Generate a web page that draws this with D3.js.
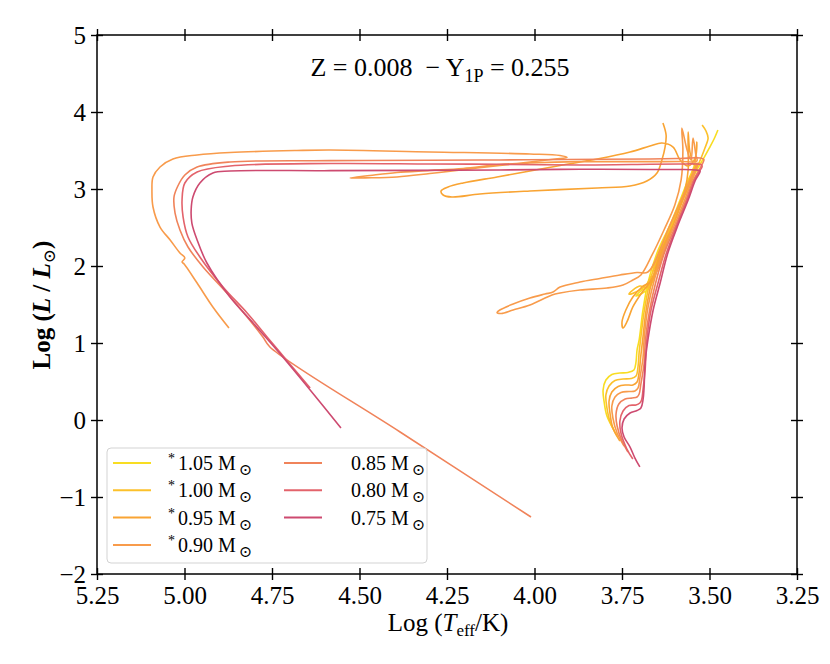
<!DOCTYPE html>
<html>
<head>
<meta charset="utf-8">
<script src="https://cdn.jsdelivr.net/npm/d3@7"></script>
<style>
  body { margin: 0; background: #fff; }
</style>
</head>
<body>
<svg id="chart" width="830" height="664"></svg>
<script>
// masses shown in the legend, and which carry the asterisk
const masses  = ["1.05", "1.00", "0.95", "0.90", "0.85", "0.80", "0.75"];
const starred = [true, true, true, true, false, false, false];

const xTicks = [5.25, 5.00, 4.75, 4.50, 4.25, 4.00, 3.75, 3.50, 3.25];
const yTicks = [-2, -1, 0, 1, 2, 3, 4, 5];

// tracks: [log Teff, log L/Lsun]
const track105 = [
  [3.773,-0.130],[3.793,0.052],[3.801,0.234],[3.804,0.390],[3.796,0.519],[3.779,0.591],
  [3.756,0.610],[3.733,0.617],[3.716,0.649],[3.710,0.753],[3.707,0.909],[3.701,1.039],
  [3.690,1.429],[3.676,1.779],[3.650,2.169],[3.613,2.532],[3.584,2.857],[3.561,3.117],
  [3.547,3.247],[3.541,3.338],[3.607,2.532],[3.670,1.753],[3.693,1.688],[3.710,1.610],
  [3.696,1.636],[3.670,1.727],[3.641,2.143],[3.613,2.468],[3.584,2.779],[3.556,3.065],
  [3.533,3.273],[3.516,3.403],[3.499,3.545],[3.487,3.649],[3.476,3.766]
];
const track100 = [
  [3.764,-0.208],[3.784,-0.026],[3.793,0.156],[3.796,0.325],[3.787,0.442],[3.770,0.513],
  [3.747,0.532],[3.724,0.539],[3.710,0.571],[3.704,0.701],[3.701,0.883],[3.697,1.039],
  [3.686,1.429],[3.671,1.779],[3.646,2.169],[3.609,2.532],[3.580,2.857],[3.557,3.117],
  [3.544,3.247],[3.539,3.338],[3.607,2.545],[3.676,1.727],[3.699,1.740],[3.719,1.688],
  [3.730,1.636],[3.710,1.662],[3.679,1.766],[3.647,2.104],[3.619,2.429],[3.590,2.753],
  [3.561,3.039],[3.539,3.247],[3.524,3.403],[3.513,3.532],[3.504,3.662],[3.510,3.753],
  [3.521,3.831]
];
const track095 = [
  [3.756,-0.273],[3.776,-0.104],[3.784,0.078],[3.787,0.247],[3.779,0.364],[3.761,0.435],
  [3.739,0.455],[3.719,0.455],[3.707,0.494],[3.701,0.623],[3.696,0.844],[3.691,1.039],
  [3.681,1.429],[3.666,1.779],[3.640,2.169],[3.604,2.532],[3.576,2.857],[3.553,3.117],
  [3.541,3.247],[3.536,3.338],[3.604,2.532],[3.664,1.818],[3.693,1.727],[3.719,1.597],
  [3.739,1.429],[3.750,1.273],[3.747,1.195],[3.736,1.273],[3.719,1.468],[3.696,1.636],
  [3.670,1.792],[3.641,2.104],[3.613,2.429],[3.587,2.727],[3.570,2.987],[3.561,3.247],
  [3.561,3.506],[3.561,3.740],[3.556,3.481],[3.544,3.312],[3.536,3.610],[3.541,3.403],
  [3.561,3.299],[3.584,3.377],[3.604,3.545],[3.636,3.597],[3.670,3.558],[3.727,3.481],
  [3.821,3.390],[3.919,3.312],[4.013,3.234],[4.107,3.156],[4.204,3.078],[4.247,3.026],
  [4.267,2.974],[4.261,2.922],[4.236,2.896],[4.156,2.935],[4.013,2.974],[3.821,3.013],
  [3.727,3.039],[3.679,3.104],[3.650,3.208],[3.636,3.377],[3.627,3.545],[3.624,3.701],
  [3.633,3.857]
];
const track090 = [
  [3.744,-0.338],[3.764,-0.169],[3.776,0.026],[3.779,0.182],[3.770,0.299],[3.753,0.357],
  [3.730,0.370],[3.713,0.377],[3.704,0.416],[3.699,0.545],[3.690,0.805],[3.687,1.039],
  [3.677,1.429],[3.660,1.779],[3.634,2.169],[3.600,2.532],[3.571,2.857],[3.550,3.117],
  [3.539,3.247],[3.533,3.338],[3.613,2.532],[3.676,1.922],[3.707,1.916],[3.756,1.883],
  [3.813,1.838],[3.870,1.792],[3.927,1.727],[3.947,1.662],[3.970,1.636],[4.013,1.584],
  [4.061,1.506],[4.099,1.429],[4.107,1.396],[4.095,1.383],[4.061,1.429],[4.013,1.494],
  [3.950,1.623],[3.927,1.649],[3.870,1.688],[3.793,1.714],[3.747,1.753],[3.719,1.818],
  [3.696,1.883],[3.664,2.143],[3.630,2.468],[3.599,2.792],[3.581,3.117],[3.576,3.506],
  [3.579,3.792],[3.564,3.506],[3.553,3.377],[3.547,3.662],[3.539,3.442],[3.536,3.364],
  [3.584,3.357],[3.727,3.355],[3.870,3.355],[4.013,3.338],[4.099,3.318],[4.204,3.267],
  [4.299,3.240],[4.393,3.214],[4.470,3.175],[4.527,3.143],[4.484,3.145],[4.393,3.156],
  [4.299,3.201],[4.204,3.252],[4.099,3.305],[4.013,3.351],[3.941,3.390],[3.907,3.409],
  [3.927,3.435],[4.013,3.455],[4.299,3.481],[4.584,3.506],[4.679,3.500],[4.870,3.474],
  [4.964,3.442],[5.033,3.390],[5.070,3.286],[5.090,3.156],[5.093,2.987],[5.090,2.766],
  [5.070,2.506],[5.041,2.338],[5.013,2.169],[4.999,2.104],[5.007,2.052],[5.001,2.026],
  [4.964,1.779],[4.919,1.468],[4.873,1.195]
];
const track085 = [
  [3.733,-0.416],[3.750,-0.273],[3.764,-0.078],[3.767,0.078],[3.759,0.208],[3.741,0.273],
  [3.721,0.286],[3.707,0.299],[3.701,0.338],[3.696,0.468],[3.687,0.727],[3.683,1.039],
  [3.671,1.429],[3.654,1.779],[3.629,2.169],[3.596,2.532],[3.567,2.857],[3.546,3.117],
  [3.530,3.247],[3.519,3.338],[3.516,3.383],[3.527,3.403],[3.584,3.396],[3.670,3.390],
  [3.907,3.383],[4.099,3.377],[4.299,3.373],[4.584,3.368],[4.870,3.351],[4.964,3.286],
  [4.999,3.182],[5.019,3.039],[5.030,2.896],[5.027,2.688],[5.013,2.468],[4.990,2.247],
  [4.947,1.987],[4.879,1.649],[4.821,1.338],[4.776,1.078],[4.756,0.948],[4.384,-0.156],
  [4.010,-1.260]
];
const track080 = [
  [3.719,-0.506],[3.736,-0.377],[3.753,-0.169],[3.756,-0.013],[3.747,0.117],[3.730,0.188],
  [3.710,0.195],[3.699,0.221],[3.694,0.260],[3.690,0.390],[3.684,0.649],[3.679,1.039],
  [3.667,1.429],[3.647,1.779],[3.623,2.169],[3.593,2.532],[3.564,2.857],[3.543,3.117],
  [3.530,3.221],[3.521,3.292],[3.524,3.318],[3.539,3.325],[3.584,3.325],[3.670,3.321],
  [3.870,3.312],[4.099,3.321],[4.299,3.325],[4.584,3.331],[4.870,3.299],[4.964,3.221],
  [4.999,3.078],[5.007,2.857],[5.004,2.636],[4.990,2.377],[4.956,2.117],[4.890,1.727],
  [4.821,1.390],[4.764,1.078],[4.699,0.727],[4.641,0.416]
];
const track075 = [
  [3.699,-0.610],[3.713,-0.494],[3.727,-0.351],[3.744,-0.221],[3.750,-0.104],[3.744,0.013],
  [3.727,0.091],[3.707,0.123],[3.696,0.156],[3.690,0.260],[3.687,0.416],[3.684,0.740],
  [3.676,1.039],[3.661,1.429],[3.641,1.779],[3.619,2.169],[3.590,2.532],[3.561,2.857],
  [3.540,3.117],[3.530,3.195],[3.527,3.234],[3.539,3.247],[3.584,3.253],[3.670,3.253],
  [3.870,3.256],[4.099,3.247],[4.584,3.238],[4.870,3.234],[4.919,3.208],[4.956,3.078],
  [4.976,2.896],[4.981,2.727],[4.979,2.558],[4.964,2.338],[4.936,2.039],[4.870,1.597],
  [4.804,1.260],[4.736,0.909],[4.641,0.390],[4.553,-0.104]
];

const tracks = [track105, track100, track095, track090, track085, track080, track075];
const colors = ["#f8dd22", "#fcc12b", "#f9a433", "#f89b4b", "#f0835a", "#e3636b", "#cd4a70"];

const serif = '"Liberation Serif", "Times New Roman", "DejaVu Serif", serif';

const svg = d3.select("#chart");
const pLeft = 97, pRight = 797, pTop = 35, pBottom = 574;

const x = d3.scaleLinear().domain([5.25, 3.25]).range([pLeft, pRight]);
const y = d3.scaleLinear().domain([-2, 5]).range([pBottom, pTop]);

// tracks
const line = d3.line()
  .x(d => x(d[0]))
  .y(d => y(d[1]))
  .curve(d3.curveCatmullRom.alpha(0.5));

svg.append("g")
  .selectAll("path")
  .data(tracks)
  .enter().append("path")
    .attr("d", line)
    .attr("fill", "none")
    .attr("stroke", (d, i) => colors[i])
    .attr("stroke-width", 1.6)
    .attr("stroke-linejoin", "round");

// axes, ticks in-and-out on all four sides
const tickFont = "25px";
const fmtY = d => d < 0 ? "\u2212" + Math.abs(d) : String(d);

const xAxisB = svg.append("g")
  .attr("transform", `translate(0,${pBottom})`)
  .call(d3.axisBottom(x).tickValues(xTicks).tickFormat(d3.format(".2f")));
const xAxisT = svg.append("g")
  .attr("transform", `translate(0,${pTop})`)
  .call(d3.axisTop(x).tickValues(xTicks).tickFormat(""));
const yAxisL = svg.append("g")
  .attr("transform", `translate(${pLeft},0)`)
  .call(d3.axisLeft(y).tickValues(yTicks).tickFormat(fmtY));
const yAxisR = svg.append("g")
  .attr("transform", `translate(${pRight},0)`)
  .call(d3.axisRight(y).tickValues(yTicks).tickFormat(""));

[xAxisB, xAxisT, yAxisL, yAxisR].forEach(g => {
  g.attr("font-family", serif);
  g.select(".domain").remove();
  g.selectAll(".tick line").attr("stroke", "#000").attr("stroke-width", 1.4);
});
[xAxisB, xAxisT].forEach(g => g.selectAll(".tick line").attr("y1", -6).attr("y2", 6));
[yAxisL, yAxisR].forEach(g => g.selectAll(".tick line").attr("x1", -6).attr("x2", 6));

xAxisB.selectAll(".tick text")
  .attr("y", 30).attr("dy", null)
  .attr("fill", "#000").attr("font-size", tickFont);
yAxisL.selectAll(".tick text")
  .attr("x", -11).attr("dy", "0.33em")
  .attr("fill", "#000").attr("font-size", tickFont);

svg.append("rect")
  .attr("x", pLeft).attr("y", pTop)
  .attr("width", pRight - pLeft).attr("height", pBottom - pTop)
  .attr("fill", "none").attr("stroke", "#000").attr("stroke-width", 1.5);

// title
const title = svg.append("text")
  .attr("x", 440).attr("y", 76)
  .attr("text-anchor", "middle")
  .attr("font-size", "26px")
  .style("white-space", "pre");
title.append("tspan").text("Z = 0.008  \u2212 Y");
title.append("tspan").attr("font-size", "18px").attr("dy", 6).text("1P");
title.append("tspan").attr("dy", -6).text(" = 0.255");

// axis labels
const xLab = svg.append("text")
  .attr("x", 448).attr("y", 631)
  .attr("text-anchor", "middle")
  .attr("font-size", "25px");
xLab.append("tspan").text("Log (");
xLab.append("tspan").attr("font-style", "italic").text("T");
xLab.append("tspan").attr("font-size", "17px").attr("dy", 5).text("eff");
xLab.append("tspan").attr("dy", -5).text("/K)");

const yLab = svg.append("text")
  .attr("transform", "translate(50,305) rotate(-90)")
  .attr("text-anchor", "middle")
  .attr("font-size", "25px")
  .attr("font-weight", "bold")
  .style("white-space", "pre");
yLab.append("tspan").text("Log (");
yLab.append("tspan").attr("font-style", "italic").text("L");
yLab.append("tspan").text(" / ");
yLab.append("tspan").attr("font-style", "italic").text("L");
yLab.append("tspan").attr("font-size", "17px").attr("font-weight", "normal").attr("dy", 5).text("\u2299");
yLab.append("tspan").attr("dy", -5).text(")");

// legend
const legend = svg.append("g");
legend.append("rect")
  .attr("x", 107).attr("y", 448)
  .attr("width", 320).attr("height", 115)
  .attr("rx", 4)
  .attr("fill", "#fff").attr("fill-opacity", 0.85)
  .attr("stroke", "#d3d3d3").attr("stroke-width", 1);

const entries = legend.selectAll("g.entry")
  .data(masses)
  .enter().append("g")
    .attr("class", "entry")
    .attr("transform", (d, i) => {
      const col = i < 4 ? 0 : 1, row = i < 4 ? i : i - 4;
      return `translate(${col ? 284 : 113},${463 + row * 27.3})`;
    });

entries.append("line")
  .attr("x1", 0).attr("x2", 38)
  .attr("stroke", (d, i) => colors[i])
  .attr("stroke-width", 2);

const labels = entries.append("text")
  .attr("x", (d, i) => i < 4 ? 55 : 67)
  .attr("y", 7)
  .attr("font-size", "20px")
  .style("white-space", "pre");
labels.filter((d, i) => starred[i])
  .append("tspan").attr("font-size", "14px").attr("dy", -7).text("*");
labels.append("tspan")
  .attr("dx", (d, i) => starred[i] ? 3 : 0)
  .attr("dy", (d, i) => starred[i] ? 7 : 0)
  .text(d => d + " M");
labels.append("tspan")
  .attr("font-size", "16px").attr("dx", 3).attr("dy", 5)
  .text("\u2299");

// serif everywhere, as in the original figure
svg.selectAll("text").style("font-family", serif).attr("fill", "#000");
</script>
</body>
</html>
